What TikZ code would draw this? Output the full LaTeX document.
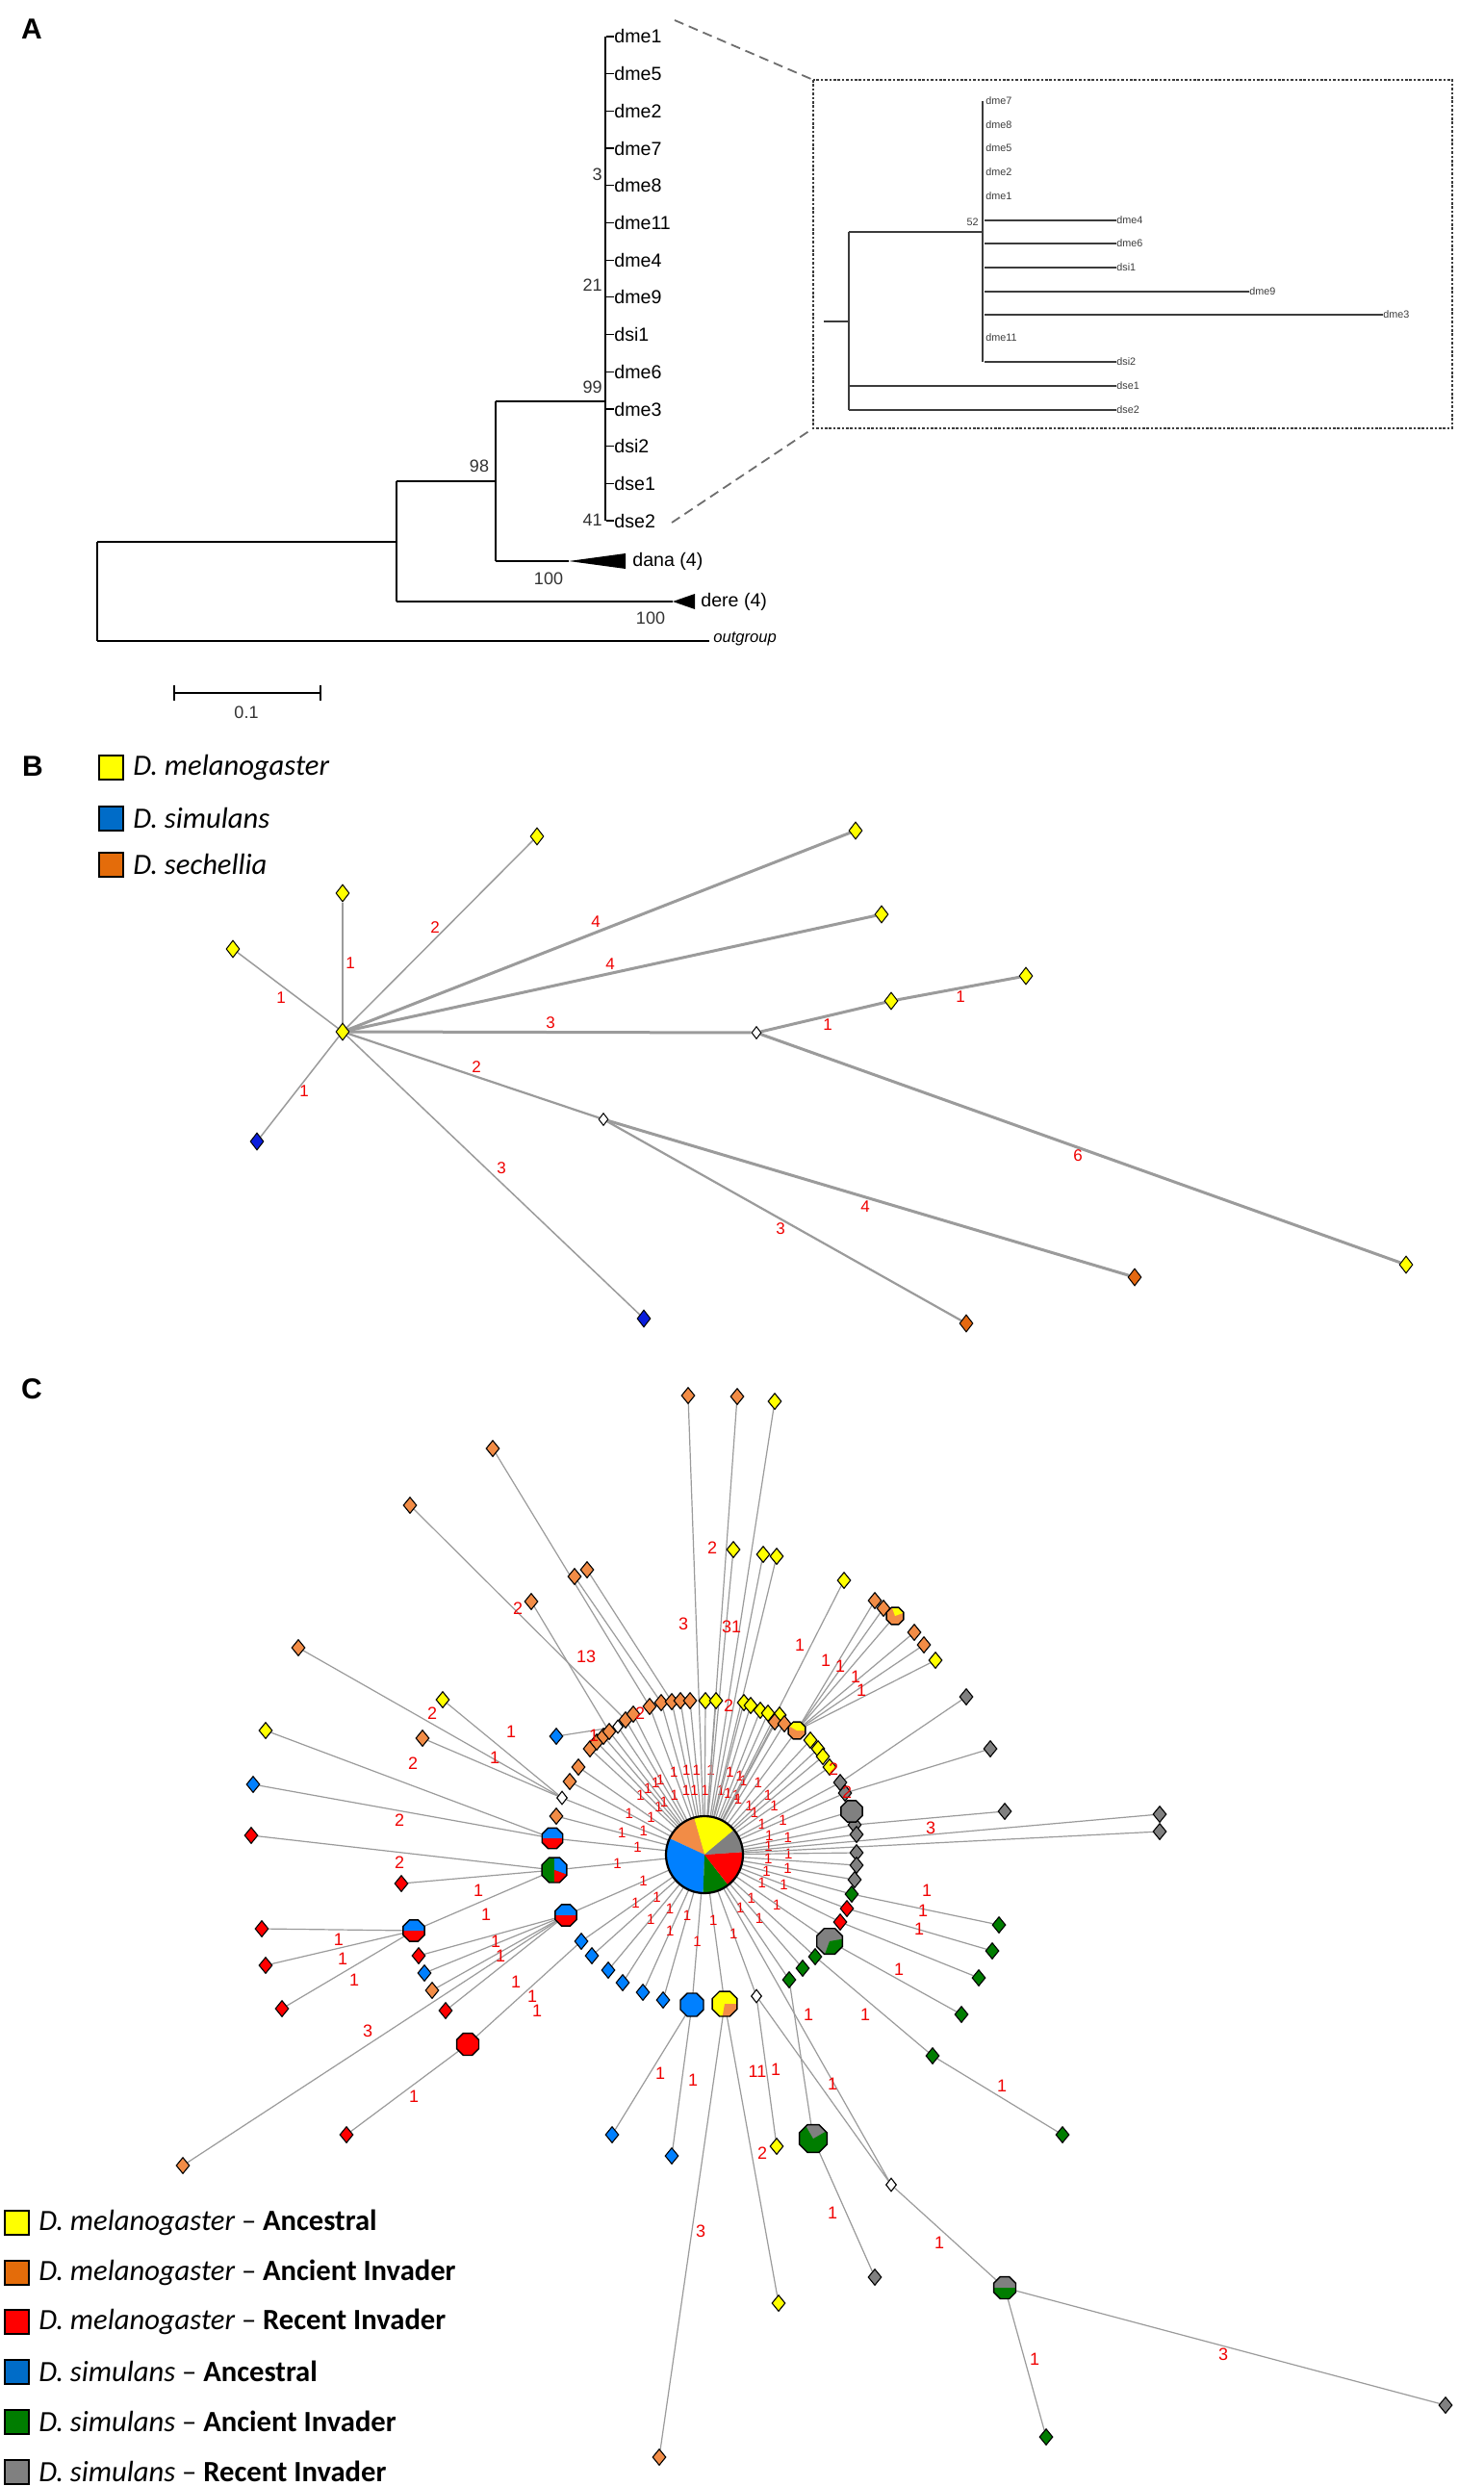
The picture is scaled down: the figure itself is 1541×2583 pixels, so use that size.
\documentclass[tikz,border=0pt]{standalone}
\usepackage{fontspec}
\setmainfont{Liberation Sans}
\newfontfamily\legfont{Carlito}
\usetikzlibrary{shapes.geometric}
\pgfdeclarelayer{back}
\pgfdeclarelayer{bg}
\pgfsetlayers{back,bg,main}
\definecolor{cyel}{RGB}{255,255,0}
\definecolor{corC}{RGB}{242,140,70}
\definecolor{corB}{RGB}{228,104,16}
\definecolor{corL}{RGB}{228,108,10}
\definecolor{cblueC}{RGB}{0,128,255}
\definecolor{cblueB}{RGB}{10,30,220}
\definecolor{cblueL}{RGB}{0,108,200}
\definecolor{cgreen}{RGB}{0,125,0}
\definecolor{cgray}{RGB}{128,128,128}
\definecolor{cred}{RGB}{255,0,0}
\definecolor{edgeg}{RGB}{155,155,155}
\definecolor{labred}{RGB}{240,0,0}
\definecolor{itc}{RGB}{60,60,60}
\definecolor{dgr}{RGB}{110,110,110}
\definecolor{bsc}{RGB}{50,50,50}
\newcommand\octclip[2]{\clip (#1) +(22.5:#2) -- +(67.5:#2) -- +(112.5:#2) -- +(157.5:#2) -- +(202.5:#2) -- +(247.5:#2) -- +(292.5:#2) -- +(337.5:#2) -- cycle;}
\newcommand\octline[2]{\draw[line width=0.7pt] (#1) +(22.5:#2) -- +(67.5:#2) -- +(112.5:#2) -- +(157.5:#2) -- +(202.5:#2) -- +(247.5:#2) -- +(292.5:#2) -- +(337.5:#2) -- cycle;}
\newcommand\octfull[3]{\filldraw[fill=#3,draw=black,line width=0.7pt] (#1) +(22.5:#2) -- +(67.5:#2) -- +(112.5:#2) -- +(157.5:#2) -- +(202.5:#2) -- +(247.5:#2) -- +(292.5:#2) -- +(337.5:#2) -- cycle;}
\newcommand\octsplit[4]{\begin{scope}\octclip{#1}{#2}\fill[#3] (#1) ++(-20pt,0pt) rectangle ++(40pt,20pt);\fill[#4] (#1) ++(-20pt,0pt) rectangle ++(40pt,-20pt);\end{scope}\octline{#1}{#2}}
\newcommand\octwedge[6]{\begin{scope}\octclip{#1}{#2}\fill[#3] (#1) circle[radius=20pt];\fill[#4] (#1) -- ++(#5:20pt) arc[start angle=#5,end angle=#6,radius=20pt] -- cycle;\end{scope}\octline{#1}{#2}}
\newcommand\lab[4]{\node[#1] (lb#2x#3) at (#2,#3) {#4};}
\tikzset{
 panel/.style={font=\fontsize{15}{15}\selectfont\bfseries, inner sep=0pt},
 leaf/.style={anchor=west, inner sep=0pt, font=\fontsize{9.8}{10}\selectfont},
 bs/.style={inner sep=0pt, text=bsc, font=\fontsize{9}{9}\selectfont},
 tree/.style={line width=1pt, draw=black},
 itree/.style={line width=0.75pt, draw=itc},
 ilab/.style={anchor=west, inner sep=0pt, font=\fontsize{5.4}{5.4}\selectfont, text=itc},
 dcon/.style={draw=dgr, line width=0.9pt, dash pattern=on 5pt off 3pt},
 bn/.style={diamond, draw=black, line width=0.5pt, minimum width=7pt, minimum height=9pt, inner sep=0pt},
 bnw/.style={bn, fill=white, minimum width=5pt, minimum height=6.5pt},
 eB/.style={draw=edgeg, line width=0.75pt},
 eBm/.style={draw=edgeg, line width=1.1pt},
 eBt/.style={draw=edgeg, line width=1.5pt},
 rlB/.style={text=labred, font=\fontsize{8.5}{8.5}\selectfont, inner sep=0pt},
 cn/.style={diamond, draw=black, line width=0.55pt, minimum width=7pt, minimum height=8.5pt, inner sep=0pt},
 cnw/.style={cn, fill=white, minimum width=5.5pt, minimum height=7pt},
 eC/.style={draw=edgeg, line width=0.6pt},
 rl/.style={text=labred, font=\fontsize{9}{9}\selectfont, inner sep=0pt},
 rls/.style={text=labred, font=\fontsize{7.5}{7.5}\selectfont, inner sep=0pt},
 legsq/.style={draw=black, line width=1pt, minimum width=12.5pt, minimum height=12.5pt, inner sep=0pt},
 legtxt/.style={anchor=west, inner sep=0pt, font=\legfont\fontsize{15.3}{16}\selectfont},
}
\begin{document}
\begin{tikzpicture}[x=0.5pt,y=-0.5pt]
\begin{pgfonlayer}{back}
\fill[white] (0,0) rectangle (1541,2583);
\end{pgfonlayer}
\useasboundingbox (0,0) rectangle (1541,2583);

%================ Panel A =================
\node[panel] (labA) at (33,30) {A};
\foreach \t [count=\i from 0] in {dme1,dme5,dme2,dme7,dme8,dme11,dme4,dme9,dsi1,dme6,dme3,dsi2,dse1,dse2} {
  \node[leaf] (A\t) at (638,{38+38.7*\i}) {\t};
  \draw[line width=0.6pt] (A\t.west) -- ++(-8,0);
}
\coordinate (tipT) at (629,38);
\coordinate (tipB) at (629,541);
\draw[tree] (tipT) -- (tipB);
\coordinate (aR1) at (101,563);
\coordinate (aR2) at (101,666);
\coordinate (aN1) at (412,563);
\coordinate (aN1b) at (412,500);
\coordinate (aN1c) at (412,625);
\coordinate (aN2) at (515,500);
\coordinate (aN2t) at (515,417);
\coordinate (aN2b) at (515,583);
\coordinate (aT) at (629,417);
\coordinate (danaTip) at (591,583);
\coordinate (danaB1) at (650,575);
\coordinate (danaB2) at (650,591);
\coordinate (dereTip) at (699,625);
\coordinate (dereB1) at (722,617);
\coordinate (dereB2) at (722,633);
\coordinate (outE) at (737,666);
\draw[tree] (aR1) -- (aR2);
\draw[tree] (aR1) -- (aN1);
\draw[tree] (aN1b) -- (aN1c);
\draw[tree] (aN1b) -- (aN2);
\draw[tree] (aN2t) -- (aN2b);
\draw[tree] (aN2t) -- (aT);
\draw[tree] (aN2b) -- (danaTip);
\fill (danaTip) -- (danaB1) -- (danaB2) -- cycle;
\draw[tree] (aN1c) -- (dereTip);
\fill (dereTip) -- (dereB1) -- (dereB2) -- cycle;
\draw[tree] (aR2) -- (outE);
\node[leaf] (dana) at (657,583) {dana (4)};
\node[leaf] (dere) at (728,625) {dere (4)};
\node[leaf, font=\fontsize{8.3}{8.3}\selectfont\itshape] (outg) at (741,664) {outgroup};
\node[bs, anchor=east] (bs3) at (626,181) {3};
\node[bs, anchor=east] (bs21) at (626,296) {21};
\node[bs, anchor=east] (bs99) at (626,402) {99};
\node[bs, anchor=east] (bs41) at (626,540) {41};
\node[bs] (bs98) at (498,484) {98};
\node[bs] (bs100a) at (570,601) {100};
\node[bs] (bs100b) at (676,642) {100};
\coordinate (sb1) at (181,720);
\coordinate (sb2) at (333,720);
\draw[line width=1pt] (sb1) -- (sb2);
\draw[line width=1pt] (sb1) ++(0,-8) -- ++(0,16);
\draw[line width=1pt] (sb2) ++(0,-8) -- ++(0,16);
\node[bs] (sbl) at (256,740) {0.1};

% inset
\coordinate (ibox1) at (845,83);
\coordinate (ibox2) at (1509,445);
\coordinate (iboxbl) at (845,445);
\coordinate (dA1) at (701,21);
\coordinate (dA2) at (698,543);
\draw[dcon] (dA1) -- (ibox1);
\draw[dcon] (dA2) -- (iboxbl);
\draw[draw=itc, line width=0.9pt, dash pattern=on 1.3pt off 0.9pt] (ibox1) rectangle (ibox2);
\coordinate (i0) at (856,334);
\coordinate (i1) at (882,334);
\coordinate (i1t) at (882,241);
\coordinate (i1b) at (882,426);
\coordinate (i2) at (1021,241);
\coordinate (i2t) at (1021,105);
\coordinate (i2b) at (1021,376);
\draw[itree] (i0) -- (i1);
\draw[itree] (i1t) -- (i1b);
\draw[itree] (i1t) -- (i2);
\draw[itree] (i2t) -- (i2b);
\foreach \t/\yy in {dme7/105,dme8/130,dme5/154,dme2/179,dme1/204,dme11/351} {
  \node[ilab] (I\t) at (1024,\yy) {\t};
}
\foreach \t/\yy/\len in {dme4/229/137,dme6/253/137,dsi1/278/137,dme9/303/275,dme3/327/414,dsi2/376/137} {
  \node[ilab] (I\t) at ({1023+\len},\yy) {\t};
  \draw[itree] (I\t.west) -- ++(-\len,0);
}
\foreach \t/\yy in {dse1/401,dse2/426} {
  \node[ilab] (I\t) at (1160,\yy) {\t};
  \draw[itree] (I\t.west) -- ++(-278,0);
}
\node[ilab, anchor=east] (i52) at (1017,231) {52};

%================ Panel B =================
\node[panel] (labB) at (34,796) {B};
\node[legsq, fill=cyel] (lgB1) at (115,797) {};
\node[legsq, fill=cblueL] (lgB2) at (115,850) {};
\node[legsq, fill=corL] (lgB3) at (115,898) {};
\node[legtxt] (lgB1t) at (138,797) {\itshape D. melanogaster};
\node[legtxt] (lgB2t) at (138,850) {\itshape D. simulans};
\node[legtxt] (lgB3t) at (138,898) {\itshape D. sechellia};

\node[bn,fill=cyel] (C0) at (356,1072) {};
\node[bn,fill=cyel] (B1) at (242,986) {};
\node[bn,fill=cyel] (B2) at (356,928) {};
\node[bn,fill=cyel] (B3) at (558,869) {};
\node[bn,fill=cyel] (B4) at (889,863) {};
\node[bn,fill=cyel] (B5) at (916,950) {};
\node[bnw] (H1) at (786,1073) {};
\node[bn,fill=cyel] (B6) at (926,1040) {};
\node[bn,fill=cyel] (B7) at (1066,1014) {};
\node[bn,fill=cyel] (B8) at (1461,1314) {};
\node[bnw] (H2) at (627,1163) {};
\node[bn,fill=corB] (B9) at (1179,1327) {};
\node[bn,fill=corB] (B10) at (1004,1375) {};
\node[bn,fill=cblueB] (B11) at (267,1186) {};
\node[bn,fill=cblueB] (B12) at (669,1370) {};
\begin{pgfonlayer}{bg}
\draw[eB] (C0) -- (B1);
\draw[eB] (C0) -- (B2);
\draw[eB] (C0) -- (B3);
\draw[eBt] (C0) -- (B4);
\draw[eBt] (C0) -- (B5);
\draw[eBt] (C0) -- (H1);
\draw[eBt] (H1) -- (B6);
\draw[eBt] (B6) -- (B7);
\draw[eBt] (H1) -- (B8);
\draw[eBm] (C0) -- (H2);
\draw[eBt] (H2) -- (B9);
\draw[eBm] (H2) -- (B10);
\draw[eB] (C0) -- (B11);
\draw[eB] (C0) -- (B12);
\end{pgfonlayer}
\lab{rlB}{292}{1037}{1}
\lab{rlB}{364}{1001}{1}
\lab{rlB}{452}{964}{2}
\lab{rlB}{619}{958}{4}
\lab{rlB}{634}{1002}{4}
\lab{rlB}{572}{1063}{3}
\lab{rlB}{860}{1065}{1}
\lab{rlB}{998}{1036}{1}
\lab{rlB}{1120}{1201}{6}
\lab{rlB}{495}{1109}{2}
\lab{rlB}{899}{1254}{4}
\lab{rlB}{811}{1277}{3}
\lab{rlB}{316}{1134}{1}
\lab{rlB}{521}{1214}{3}

%================ Panel C =================
\node[panel] (labC) at (33,1443) {C};
% legend
\node[legsq, fill=cyel] (lgC1) at (17,2309) {};
\node[legsq, fill=corL] (lgC2) at (17,2361) {};
\node[legsq, fill=cred] (lgC3) at (17,2412) {};
\node[legsq, fill=cblueL] (lgC4) at (17,2464) {};
\node[legsq, fill=cgreen] (lgC5) at (17,2516) {};
\node[legsq, fill=cgray] (lgC6) at (17,2568) {};
\node[legtxt] (lgC1t) at (40,2309) {{\itshape D. melanogaster} – {\bfseries Ancestral}};
\node[legtxt] (lgC2t) at (40,2361) {{\itshape D. melanogaster} – {\bfseries Ancient Invader}};
\node[legtxt] (lgC3t) at (40,2412) {{\itshape D. melanogaster} – {\bfseries Recent Invader}};
\node[legtxt] (lgC4t) at (40,2464) {{\itshape D. simulans} – {\bfseries Ancestral}};
\node[legtxt] (lgC5t) at (40,2516) {{\itshape D. simulans} – {\bfseries Ancient Invader}};
\node[legtxt] (lgC6t) at (40,2568) {{\itshape D. simulans} – {\bfseries Recent Invader}};

% pie / octagon coordinates
\coordinate (P) at (732,1927);
\coordinate (pie1) at (828,1798);
\coordinate (g3) at (885,1882);
\coordinate (pie2) at (862,2017);
\coordinate (pie3) at (753,2082);
\coordinate (b1) at (719,2083);
\coordinate (pie4) at (588,1990);
\coordinate (pie5) at (576,1943);
\coordinate (pie6) at (574,1910);
\coordinate (u3) at (930,1679);
\coordinate (oct1) at (845,2222);
\coordinate (pie7) at (1044,2377);
\coordinate (lo13) at (430,2006);
\coordinate (lo21) at (486,2124);

% small nodes
\foreach \nm/\x/\y/\c in {
 o1/613/1817/corC, o2/620/1810/corC, o3/627/1804/corC, o4/633/1799/corC,
 o5/650/1787/corC, o6/658/1781/corC, o7/675/1773/corC, o8/687/1769/corC,
 o9/698/1768/corC, o10/707/1767/corC, o11/717/1767/corC,
 y1/733/1767/cyel, y2/744/1767/cyel, y3/773/1769/cyel, y4/780/1772/cyel,
 y5/790/1777/cyel, y6/798/1780/cyel, y7/810/1782/cyel,
 o12/805/1789/corC, o13/815/1791/corC,
 y8/842/1808/cyel, y9/850/1817/cyel, y10/855/1825/cyel, y11/862/1836/cyel,
 g1/873/1852/cgray, g2/878/1863/cgray, g4/888/1896/cgray, g5/890/1906/cgray,
 g6/890/1925/cgray, g7/890/1938/cgray, g8/888/1953/cgray,
 gr1/885/1968/cgreen, r1/880/1983/cred, r2/873/1997/cred,
 gr2/847/2033/cgreen, gr3/834/2045/cgreen, gr4/820/2057/cgreen,
 b2/689/2078/cblueC, b3/668/2070/cblueC, b4/647/2060/cblueC, b5/632/2047/cblueC,
 b6/615/2032/cblueC, b7/604/2017/cblueC,
 o14/578/1887/corC, o15/592/1851/corC, o16/601/1836/corC, bl8/578/1804/cblueC,
 t1/715/1450/corC, t2/766/1451/corC, t3/805/1456/cyel, t4/762/1610/cyel,
 t5/793/1615/cyel, t6/807/1617/cyel, t7/877/1642/cyel,
 u1/909/1663/corC, u2/918/1671/corC, u4/950/1696/corC, u5/960/1709/corC, u6/972/1725/cyel,
 rg1/1004/1763/cgray, rg2/1029/1817/cgray, rg3/1044/1882/cgray, rg4/1205/1885/cgray, rg5/1205/1903/cgray,
 rgr1/1038/2000/cgreen, rgr2/1031/2027/cgreen, rgr3/1017/2055/cgreen, rgr4/999/2093/cgreen,
 rgr5/969/2136/cgreen, rgr6/1104/2218/cgreen,
 bb1/636/2218/cblueC, bb2/698/2240/cblueC, by1/807/2230/cyel, by2/809/2393/cyel,
 bo1/685/2553/corC, bg1/909/2366/cgray, bgr/1502/2499/cgray, bgrn/1087/2532/cgreen,
 lo1/512/1505/corC, lo2/426/1564/corC, lo3/597/1638/corC, lo4/610/1631/corC, lo5/552/1664/corC,
 lo6/310/1712/corC, lo7/460/1766/cyel, lo8/276/1798/cyel, lo9/439/1806/corC,
 lo10/263/1854/cblueC, lo11/261/1907/cred, lo12/417/1957/cred,
 lo14/272/2004/cred, lo15/276/2042/cred, lo16/293/2087/cred,
 lo17/435/2032/cred, lo18/441/2050/cblueC, lo19/449/2068/corC, lo20/463/2089/cred,
 lo22/360/2218/cred, lo23/190/2250/corC} {
  \node[cn,fill=\c] (\nm) at (\x,\y) {};
}
\node[cnw] (w1) at (642,1794) {};
\node[cnw] (w3) at (584,1868) {};
\node[cnw] (w2) at (786,2074) {};
\node[cnw] (w4) at (926,2270) {};

% edges
\begin{pgfonlayer}{bg}
\foreach \n [count=\k] in {o1,o2,o3,o4,o5,o6,o7,o8,o9,o10,o11,y1,y2,y3,y4,y5,y6,y7,o12,o13,pie1,y8,y9,y10,y11,g1,g2,g3,g4,g5,g6,g7,g8,gr1,r1,r2,pie2,gr2,gr3,gr4,w2,pie3,b1,b2,b3,b4,b5,b6,b7,pie4,pie5,pie6,o14,w3,o15,o16,w1} {
  \pgfmathsetmacro\pp{0.44+0.14*mod(\k,2)}
  \draw[eC] (P) -- (\n) node[rls,pos=\pp]{1};
}
\foreach \n in {t1,t2,t3,t4,t5,t6,t7,rg4,rg5,w4} {
  \draw[eC] (P) -- (\n);
}
\foreach \a/\b in {pie1/u1,pie1/u2,pie1/u3,pie1/u4,pie1/u5,pie1/u6,
  g1/rg1,g2/rg2,g4/rg3,gr1/rgr1,r1/rgr2,r2/rgr3,pie2/rgr4,gr2/rgr5,rgr5/rgr6,
  b1/bb1,b1/bb2,w2/by1,pie3/by2,pie3/bo1,gr4/oct1,oct1/bg1,
  w2/w4,w4/pie7,pie7/bgr,pie7/bgrn,
  w1/bl8,o7/lo1,o5/lo2,o8/lo3,o9/lo4,o4/lo5,
  w3/lo6,w3/lo7,w3/lo9,pie6/lo8,pie6/lo10,
  pie5/lo11,pie5/lo12,pie5/lo13,lo13/lo14,lo13/lo15,lo13/lo16,
  pie4/lo17,pie4/lo18,pie4/lo19,pie4/lo20,pie4/lo23,b7/lo21,lo21/lo22} {
  \draw[eC] (\a) -- (\b);
}
\end{pgfonlayer}

% pies and octagons
\fill[cyel] (P) -- ++(40:20pt) arc[start angle=40,end angle=106,radius=20pt] -- cycle;
\fill[corC] (P) -- ++(106:20pt) arc[start angle=106,end angle=155,radius=20pt] -- cycle;
\fill[cblueC] (P) -- ++(155:20pt) arc[start angle=155,end angle=268,radius=20pt] -- cycle;
\fill[cgreen] (P) -- ++(268:20pt) arc[start angle=268,end angle=308,radius=20pt] -- cycle;
\fill[cred] (P) -- ++(308:20pt) arc[start angle=308,end angle=364,radius=20pt] -- cycle;
\fill[cgray] (P) -- ++(4:20pt) arc[start angle=4,end angle=40,radius=20pt] -- cycle;
\draw[line width=1.1pt] (P) circle[radius=20pt];
\octwedge{pie1}{4.8pt}{corC}{cyel}{0}{150}
\octfull{g3}{6pt}{cgray}
\octwedge{pie2}{7.2pt}{cgray}{cgreen}{-110}{10}
\octwedge{pie3}{7pt}{cyel}{corC}{-100}{0}
\octfull{b1}{6.5pt}{cblueC}
\octsplit{pie4}{6pt}{cblueC}{cred}
\begin{scope}\octclip{pie5}{7pt}
\fill[cgreen] (pie5) circle[radius=20pt];
\fill[cblueC] (pie5) -- ++(-20:20pt) arc[start angle=-20,end angle=90,radius=20pt] -- cycle;
\fill[cred] (pie5) -- ++(-90:20pt) arc[start angle=-90,end angle=-20,radius=20pt] -- cycle;
\end{scope}
\octline{pie5}{7pt}
\octsplit{pie6}{5.8pt}{cblueC}{cred}
\octwedge{u3}{4.8pt}{corC}{cyel}{20}{110}
\octwedge{oct1}{7.8pt}{cgreen}{cgray}{30}{120}
\octsplit{pie7}{6.2pt}{cgray}{cgreen}
\octsplit{lo13}{6pt}{cblueC}{cred}
\octfull{lo21}{6.2pt}{cred}

% labels panel C
\lab{rl}{740}{1608}{2}
\lab{rl}{710}{1687}{3}
\lab{rl}{760}{1690}{31}
\lab{rl}{831}{1709}{1}
\lab{rl}{858}{1725}{1}
\lab{rl}{873}{1731}{1}
\lab{rl}{889}{1742}{1}
\lab{rl}{895}{1756}{1}
\lab{rl}{967}{1899}{3}
\lab{rl}{963}{1964}{1}
\lab{rl}{959}{1985}{1}
\lab{rl}{955}{2004}{1}
\lab{rl}{934}{2046}{1}
\lab{rl}{899}{2093}{1}
\lab{rl}{1041}{2167}{1}
\lab{rl}{686}{2154}{1}
\lab{rl}{720}{2161}{1}
\lab{rl}{787}{2152}{11}
\lab{rl}{806}{2150}{1}
\lab{rl}{840}{2093}{1}
\lab{rl}{865}{2165}{1}
\lab{rl}{792}{2237}{2}
\lab{rl}{728}{2318}{3}
\lab{rl}{865}{2299}{1}
\lab{rl}{976}{2330}{1}
\lab{rl}{1271}{2446}{3}
\lab{rl}{1075}{2451}{1}
\lab{rl}{538}{1671}{2}
\lab{rl}{609}{1721}{13}
\lab{rl}{449}{1780}{2}
\lab{rl}{531}{1799}{1}
\lab{rl}{514}{1826}{1}
\lab{rl}{429}{1832}{2}
\lab{rl}{415}{1891}{2}
\lab{rl}{415}{1935}{2}
\lab{rl}{497}{1964}{1}
\lab{rl}{505}{1989}{1}
\lab{rl}{352}{2015}{1}
\lab{rl}{356}{2035}{1}
\lab{rl}{368}{2057}{1}
\lab{rl}{515}{2017}{1}
\lab{rl}{520}{2032}{1}
\lab{rl}{536}{2059}{1}
\lab{rl}{553}{2074}{1}
\lab{rl}{558}{2089}{1}
\lab{rl}{382}{2110}{3}
\lab{rl}{430}{2178}{1}
\lab{rl}{617}{1803}{1}
\lab{rl}{665}{1780}{2}
\lab{rl}{757}{1772}{2}
\lab{rl}{866}{1838}{2}
\lab{rl}{880}{1862}{2}
\end{tikzpicture}
\end{document}
